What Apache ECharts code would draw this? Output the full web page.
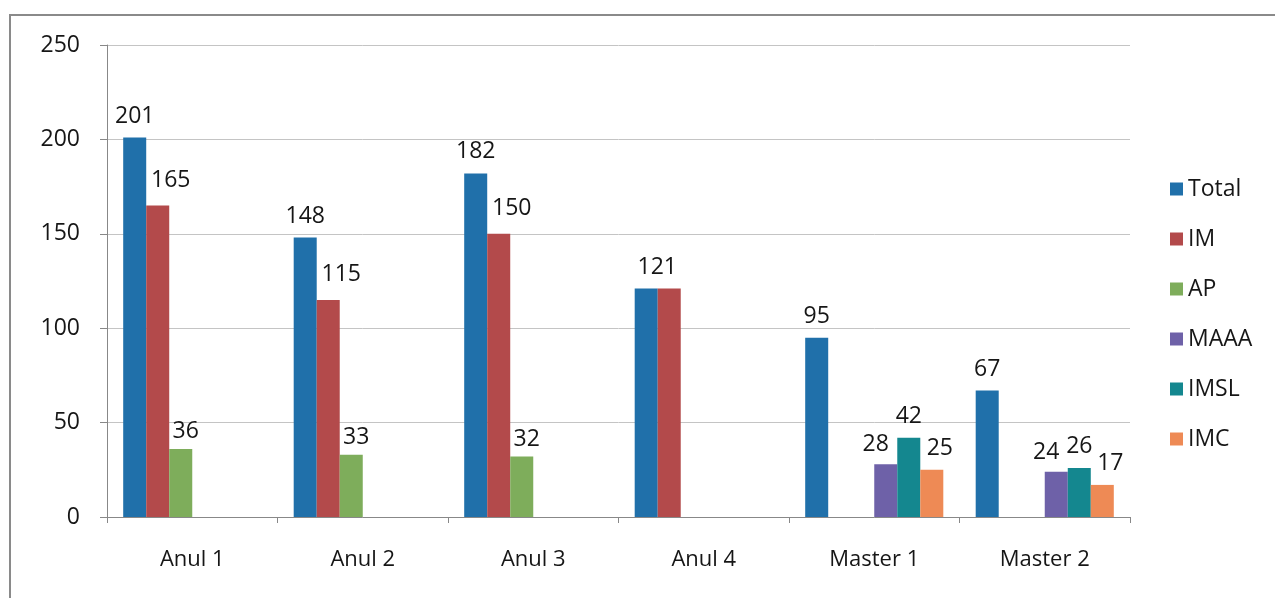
<!DOCTYPE html>
<html><head><meta charset="utf-8">
<script src="https://cdn.jsdelivr.net/npm/echarts@6/dist/echarts.min.js"></script>
<style>html,body{margin:0;padding:0;background:#fff}#c{width:1275px;height:598px}</style>
</head><body><div id="c"></div>
<script>
var categories = ['Anul 1','Anul 2','Anul 3','Anul 4','Master 1','Master 2'];
var seriesNames = ['Total','IM','AP','MAAA','IMSL','IMC'];
var total = [201,148,182,121,95,67];
var im    = [165,115,150,121,null,null];
var ap    = [36,33,32,null,null,null];
var maaa  = [null,null,null,null,28,24];
var imsl  = [null,null,null,null,42,26];
var imc   = [null,null,null,null,25,17];
var yTicks = [0,50,100,150,200,250];
var colors = ['#2070AA','#B34A4B','#7EAD5B','#6E61A8','#14878F','#EE8A55'];
var values = [total, im, ap, maaa, imsl, imc];
var font = '"Open Sans", sans-serif';
var txt = '#161616';
// label placement style (Excel-like nudges)
var seriesLabelOffset = [[0,0],[13,-4],[5,4],[-10,2],[0,0],[8,0]];

function buildData(i){
  return values[i].map(function(v,j){
    var item = {value:v};
    if (seriesNames[i]==='IM' && im[j]!==null && im[j]===total[j]) item.label = {show:false};
    if (seriesNames[i]==='Total' && im[j]!==null && im[j]===total[j]) item.label = {offset:[11,0]};
    return item;
  });
}

var chart = echarts.init(document.getElementById('c'));
chart.setOption({
  animation:false,
  color: colors,
  graphic:[{type:'rect',shape:{x:10,y:15,width:1300,height:620},style:{fill:'none',stroke:'#8a8a8a',lineWidth:2}}],
  grid:{left:107,right:145,top:45,bottom:81},
  legend:{orient:'vertical',left:1165,top:172,itemGap:26,itemWidth:13,itemHeight:13,icon:'rect',
    textStyle:{fontFamily:font,fontSize:23,lineHeight:24,color:txt},data:seriesNames},
  xAxis:{type:'category',data:categories,
    axisLine:{lineStyle:{color:'#888'}},axisTick:{show:true,length:6,lineStyle:{color:'#888'}},
    axisLabel:{fontFamily:font,fontSize:22,color:txt,margin:32}},
  yAxis:{type:'value',min:0,max:250,interval:50,
    axisLine:{show:true,lineStyle:{color:'#888'}},axisTick:{show:true,length:7,lineStyle:{color:'#888'}},
    splitLine:{lineStyle:{color:'#c4c4c4'}},
    axisLabel:{fontFamily:font,fontSize:23,color:txt,margin:27,
      formatter:function(v){return yTicks.indexOf(v)>=0?String(v):'';}}},
  series: seriesNames.map(function(n,i){return {
    name:n,type:'bar',data:buildData(i),barGap:'0%',barCategoryGap:'19%',
    label:{show:true,position:'top',distance:10,offset:seriesLabelOffset[i],fontFamily:font,fontSize:23,color:txt}
  };})
});
</script></body></html>
